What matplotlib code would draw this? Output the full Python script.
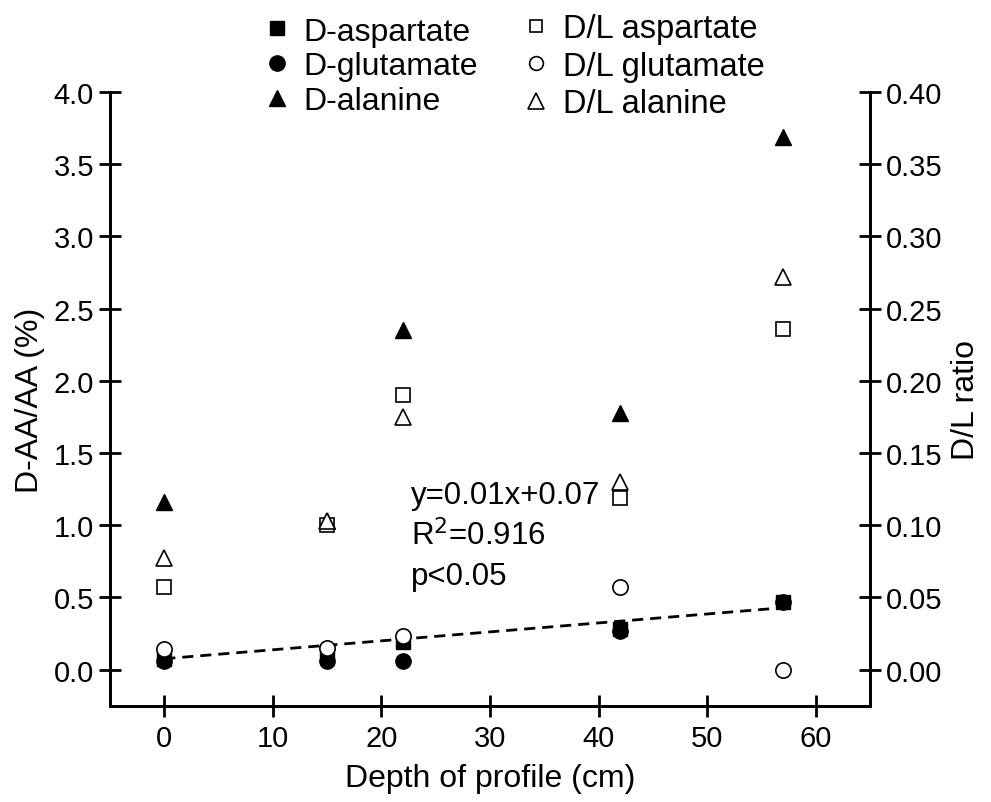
import numpy as np
import matplotlib.pyplot as plt
from matplotlib.lines import Line2D

plt.rcParams['font.family'] = ['Liberation Sans', 'DejaVu Sans']

# depth of profile (cm)
depth = [0, 15, 22, 42, 57]

# D-AA/AA (%) - left axis
d_asp = [0.07, 0.12, 0.19, 0.28, 0.47]
d_glu = [0.06, 0.06, 0.06, 0.27, 0.47]
d_ala = [1.16, 1.03, 2.35, 1.78, 3.69]

# D/L ratio - right axis
dl_asp = [0.057, 0.100, 0.190, 0.119, 0.236]
dl_glu = [0.014, 0.015, 0.023, 0.057, 0.000]
dl_ala = [0.077, 0.103, 0.175, 0.130, 0.272]

# regression line for D-aspartate (as drawn)
fit_slope = 0.0062
fit_intercept = 0.075
fit_text = ["y=0.01x+0.07", "R$^2$=0.916", "p<0.05"]

fig = plt.figure(figsize=(9.91, 8.03), dpi=100)
ax = fig.add_axes([0.111, 0.12, 0.767, 0.764])
ax2 = ax.twinx()

ms = 11
ax.plot(depth, d_asp, 's', color='black', ms=ms * 0.9, ls='none')
ax.plot(depth, d_glu, 'o', color='black', ms=ms, ls='none')
ax.plot(depth, d_ala, '^', color='black', ms=ms * 1.1, ls='none')

fx = np.array([depth[0], depth[-1]])
ax.plot(fx, fit_intercept + fit_slope * fx, color='black', lw=2, dashes=(4, 2.5))

ax2.plot(depth, dl_asp, 's', mfc='white', mec='black', mew=1.2, ms=ms * 0.95, ls='none')
ax2.plot(depth, dl_glu, 'o', mfc='white', mec='black', mew=1.2, ms=ms, ls='none')
ax2.plot(depth, dl_ala, '^', mfc='white', mec='black', mew=1.2, ms=ms * 1.1, ls='none')

for i, t in enumerate(fit_text):
    ax.text(22.7, 1.21 - i * 0.28, t, fontsize=22.5, ha='left', va='center')

ax.set_xlim(-5, 65)
ax.set_ylim(-0.25, 4.0)
ax2.set_ylim(-0.025, 0.40)
ax.set_xticks(range(0, 61, 10))
ax.set_yticks(np.arange(0, 4.01, 0.5))
ax2.set_yticks(np.arange(0, 0.401, 0.05))
ax.set_yticklabels([f"{v:.1f}" for v in np.arange(0, 4.01, 0.5)])
ax2.set_yticklabels([f"{v:.2f}" for v in np.arange(0, 0.401, 0.05)])

for a in (ax, ax2):
    a.spines['top'].set_visible(False)
    for s in a.spines.values():
        s.set_linewidth(2)
    a.tick_params(direction='inout', length=16, width=2, labelsize=21)
ax.spines['left'].set_bounds(-0.25, 4.0)
ax2.spines['right'].set_bounds(-0.025, 0.40)
ax.tick_params(axis='x', pad=5)

ax.set_xlabel("Depth of profile (cm)", fontsize=23, labelpad=8)
ax.set_ylabel("D-AA/AA (%)", fontsize=23, labelpad=6)
ax2.set_ylabel("D/L ratio", fontsize=23, labelpad=6)

h1 = [Line2D([], [], marker='s', color='black', ls='none', ms=ms * 0.9),
      Line2D([], [], marker='o', color='black', ls='none', ms=ms),
      Line2D([], [], marker='^', color='black', ls='none', ms=ms * 1.1)]
h2 = [Line2D([], [], marker='s', mfc='white', mec='black', mew=1.2, ls='none', ms=ms * 0.85),
      Line2D([], [], marker='o', mfc='white', mec='black', mew=1.2, ls='none', ms=ms * 0.9),
      Line2D([], [], marker='^', mfc='white', mec='black', mew=1.2, ls='none', ms=ms)]
fig.legend(h1, ["D-aspartate", "D-glutamate", "D-alanine"], loc='upper left',
           bbox_to_anchor=(0.242, 0.998), frameon=False, fontsize=23, borderpad=0,
           handlelength=1.3, handletextpad=0.2, labelspacing=0.15)
fig.legend(h2, ["D/L aspartate", "D/L glutamate", "D/L alanine"], loc='upper left',
           bbox_to_anchor=(0.5025, 1.0025), frameon=False, fontsize=23.5, borderpad=0,
           handlelength=1.3, handletextpad=0.2, labelspacing=0.2)

fig.savefig("out.png", dpi=100)
